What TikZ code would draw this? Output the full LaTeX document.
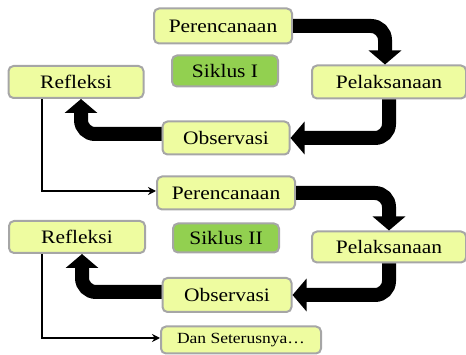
\documentclass[tikz,border=0pt]{standalone}
\usepackage{fontspec}
\setmainfont[FakeStretch=1.13]{Liberation Serif}
\usetikzlibrary{arrows.meta}
\definecolor{stagefill}{HTML}{EEFCA0}
\definecolor{stageline}{HTML}{A6A6A6}
\definecolor{cyclefill}{HTML}{92D050}

\begin{document}
\begin{tikzpicture}[x=1pt,y=-1pt,>=Stealth,
    stage node/.style={rectangle,rounded corners=5pt,draw=stageline,line width=2pt,fill=stagefill,font=\fontsize{19}{22}\selectfont,inner sep=0pt},
    cycle node/.style={stage node,fill=cyclefill},
    big arrow/.style={line width=14pt,rounded corners=14pt,-{Triangle[width=32pt,length=14pt]}},
    thin arrow/.style={line width=2pt,-{Stealth[length=8pt,width=8pt]}}]

    \useasboundingbox (0,0) rectangle (466,355);

    % siklus I
    \node[stage node,minimum width=138pt,minimum height=35pt] (per1) at (223,26) {Perencanaan};
    \node[cycle node,minimum width=106pt,minimum height=31pt] (sik1) at (225,71) {Siklus I};
    \node[stage node,minimum width=135pt,minimum height=32pt] (ref1) at (76,82) {Refleksi};
    \node[stage node,minimum width=154pt,minimum height=33pt] (pel1) at (389,82) {Pelaksanaan};
    \node[stage node,minimum width=127pt,minimum height=33pt] (obs1) at (226,138) {Observasi};

    % siklus II
    \node[stage node,minimum width=138pt,minimum height=33pt] (per2) at (226,193) {Perencanaan};
    \node[cycle node,minimum width=106pt,minimum height=29pt] (sik2) at (226,238) {Siklus II};
    \node[stage node,minimum width=136pt,minimum height=32pt] (ref2) at (77,237) {Refleksi};
    \node[stage node,minimum width=154pt,minimum height=31pt] (pel2) at (389,247) {Pelaksanaan};
    \node[stage node,minimum width=129pt,minimum height=34pt] (obs2) at (227,295) {Observasi};
    \node[stage node,minimum width=160pt,minimum height=27pt,font=\fontsize{15.5}{18}\selectfont] (dan) at (241,340) {Dan Seterusnya\dots};

    \draw[big arrow] (per1.east) -| ([xshift=-4pt]pel1.north);
    \draw[big arrow] (pel1.south) |- (obs1.east);
    \draw[big arrow] ([yshift=4pt]obs1.west) -| ([xshift=5pt]ref1.south);
    \draw[thin arrow] ([xshift=-34pt]ref1.south) |- ([yshift=2pt]per2.west);

    \draw[big arrow] (per2.east) -| (pel2.north);
    \draw[big arrow] (pel2.south) |- (obs2.east);
    \draw[big arrow] ([yshift=3pt]obs2.west) -| ([xshift=5pt]ref2.south);
    \draw[thin arrow] ([xshift=-35pt]ref2.south) |- ([yshift=2pt]dan.west);

\end{tikzpicture}
\end{document}
